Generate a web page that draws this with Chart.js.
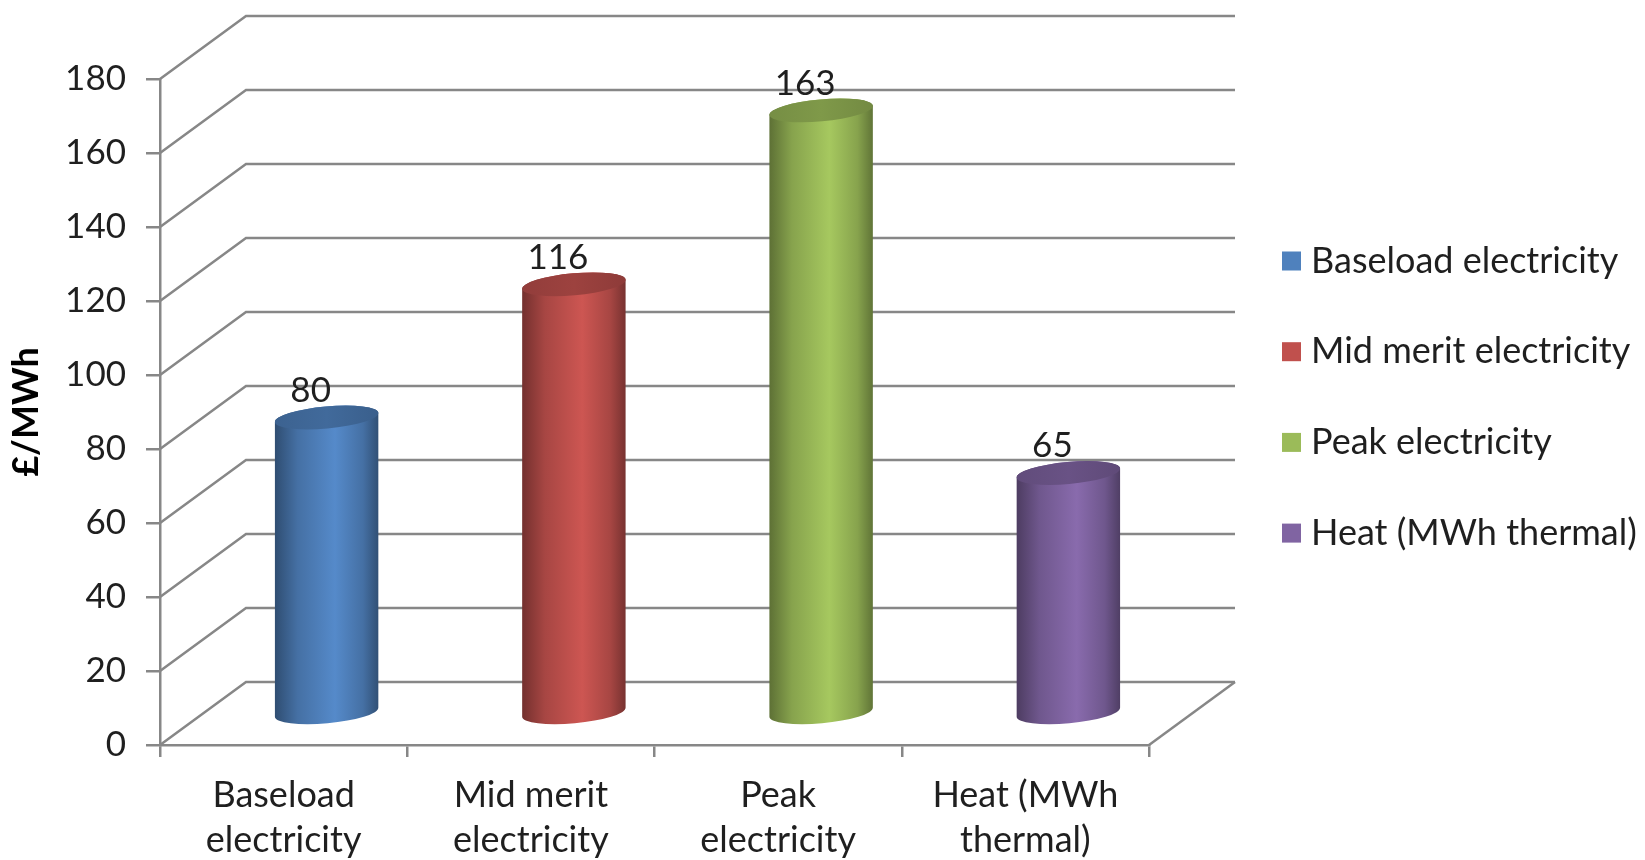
<!DOCTYPE html>
<html>
<head>
<meta charset="utf-8">
<title>Price per MWh</title>
<script src="https://cdn.jsdelivr.net/npm/chart.js@4.4.1/dist/chart.umd.min.js"></script>
<style>
  html, body { margin: 0; padding: 0; background: #fff; }
  #wrap { width: 1645px; height: 860px; }
</style>
</head>
<body>
<div id="wrap"><canvas id="priceChart" width="1645" height="860"></canvas></div>
<script>
'use strict';

//***************** Data *****************
const categories = [['Baseload', 'electricity'], ['Mid merit', 'electricity'], ['Peak', 'electricity'], ['Heat (MWh', 'thermal)']];
const legendNames = ['Baseload electricity', 'Mid merit electricity', 'Peak electricity', 'Heat (MWh thermal)'];
const prices = [80, 116, 163, 65];
const barColors = ['#4F81BD', '#C0504D', '#9BBB59', '#8064A2'];
const yTicks = [0, 20, 40, 60, 80, 100, 120, 140, 160, 180];

//***************** Look *****************
const DEPTH_X = 86;     // how far the back wall sits to the right
const DEPTH_Y = -63;    // and how far up
const LINE = '#878787';
const TEXT = '#1f1f1f';
const FONT = 'Lato, "Open Sans", sans-serif';

Chart.defaults.font.family = FONT;

// multiply an #rrggbb colour by f, used for the cylinder shading
function shade(hex, f) {
  let n = parseInt(hex.slice(1), 16);
  let r = Math.min(255, Math.round(((n >> 16) & 255) * f));
  let g = Math.min(255, Math.round(((n >> 8) & 255) * f));
  let b = Math.min(255, Math.round((n & 255) * f));
  return `rgb(${r},${g},${b})`;
}

function drawCylinder(ctx, cx, topY, botY, rx, color) {
  const ry = 11;
  const rot = -0.09;
  const ox = rx * Math.cos(rot);
  const oy = rx * Math.sin(rot);

  let grad = ctx.createLinearGradient(cx - rx, 0, cx + rx, 0);
  grad.addColorStop(0, shade(color, 0.6));
  grad.addColorStop(0.22, shade(color, 0.87));
  grad.addColorStop(0.58, shade(color, 1.07));
  grad.addColorStop(0.85, shade(color, 0.87));
  grad.addColorStop(1, shade(color, 0.62));

  // body + front half of the bottom
  ctx.beginPath();
  ctx.moveTo(cx - ox, topY - oy);
  ctx.lineTo(cx - ox, botY - oy);
  ctx.ellipse(cx, botY, rx, ry, rot, Math.PI, 0, true);
  ctx.lineTo(cx + ox, topY + oy);
  ctx.ellipse(cx, topY, rx, ry, rot, 0, Math.PI, true);
  ctx.closePath();
  ctx.fillStyle = grad;
  ctx.fill();

  // lid
  let lid = ctx.createLinearGradient(cx - rx, 0, cx + rx, 0);
  lid.addColorStop(0, shade(color, 0.76));
  lid.addColorStop(0.5, shade(color, 0.82));
  lid.addColorStop(1, shade(color, 0.74));
  ctx.beginPath();
  ctx.ellipse(cx, topY, rx, ry, rot, 0, Math.PI * 2);
  ctx.fillStyle = lid;
  ctx.fill();
}

//***************** 3D plugin *****************
const cylinderPlugin = {
  id: 'cylinders',
  beforeDatasetsDraw(chart) {
    const { ctx, chartArea, scales } = chart;
    ctx.save();

    // side wall + back wall gridlines
    ctx.strokeStyle = LINE;
    ctx.lineWidth = 2.5;
    yTicks.forEach(v => {
      let py = scales.y.getPixelForValue(v);
      ctx.beginPath();
      ctx.moveTo(chartArea.left, py);
      ctx.lineTo(chartArea.left + DEPTH_X, py + DEPTH_Y);
      ctx.lineTo(chartArea.right + DEPTH_X, py + DEPTH_Y);
      ctx.stroke();
    });
    let py0 = scales.y.getPixelForValue(0);
    ctx.beginPath();
    ctx.moveTo(chartArea.right, py0);
    ctx.lineTo(chartArea.right + DEPTH_X, py0 + DEPTH_Y);
    ctx.stroke();

    // cylinders sit half way back
    let meta = chart.getDatasetMeta(0);
    meta.data.forEach((bar, i) => {
      let p = bar.getProps(['x', 'y', 'base', 'width'], true);
      drawCylinder(ctx, p.x + DEPTH_X / 2, p.y + DEPTH_Y / 2, p.base + DEPTH_Y / 2, p.width / 2, barColors[i]);
    });

    ctx.restore();
    return false; // skip the flat bars
  },
  afterDraw(chart) {
    const { ctx } = chart;
    ctx.save();
    ctx.font = `35px ${FONT}`;
    ctx.fillStyle = TEXT;
    ctx.textAlign = 'center';
    ctx.textBaseline = 'middle';

    // value labels
    let meta = chart.getDatasetMeta(0);
    meta.data.forEach((bar, i) => {
      let p = bar.getProps(['x', 'y'], true);
      ctx.fillText(String(prices[i]), p.x + DEPTH_X / 2 - 16, p.y + DEPTH_Y / 2 - 27);
    });

    // legend
    ctx.font = `36px ${FONT}`;
    ctx.textAlign = 'left';
    legendNames.forEach((name, i) => {
      let ly = 261 + i * 90.7;
      ctx.fillStyle = barColors[i];
      ctx.fillRect(1282, ly - 9.5, 19, 19);
      ctx.fillStyle = TEXT;
      ctx.fillText(name, 1311, ly);
    });
    ctx.restore();
  }
};

//***************** Chart *****************
let ctx = document.getElementById('priceChart');

new Chart(ctx, {
  type: 'bar',
  data: {
    labels: categories,
    datasets: [{
      label: '£/MWh',
      data: prices,
      backgroundColor: barColors,
      barPercentage: 0.42,
      categoryPercentage: 1
    }]
  },
  options: {
    responsive: false,
    animation: false,
    layout: { padding: { left: 0, top: 79, right: 496, bottom: 0 } },
    plugins: {
      legend: { display: false },
      tooltip: { enabled: false }
    },
    scales: {
      x: {
        afterFit: s => { s.height = 115; },
        grid: { offset: true, drawOnChartArea: false, tickLength: 12, color: LINE, lineWidth: 2.5 },
        border: { color: LINE, width: 2.5 },
        ticks: { padding: 16, color: TEXT, font: { size: 36, lineHeight: 1.25 }, maxRotation: 0, autoSkip: false }
      },
      y: {
        min: 0,
        max: 180,
        afterBuildTicks: s => { s.ticks = yTicks.map(v => ({ value: v })); },
        afterFit: s => { s.width = 160; },
        grid: { drawOnChartArea: false, tickLength: 14, color: LINE, lineWidth: 2.5 },
        border: { color: LINE, width: 2.5 },
        ticks: { padding: 20, color: TEXT, font: { size: 35 } },
        title: {
          display: true,
          text: '£/MWh',
          color: '#000',
          font: { size: 36, weight: 'bold' },
          padding: { top: 5, bottom: 0 }
        }
      }
    }
  },
  plugins: [cylinderPlugin]
});
</script>
</body>
</html>
